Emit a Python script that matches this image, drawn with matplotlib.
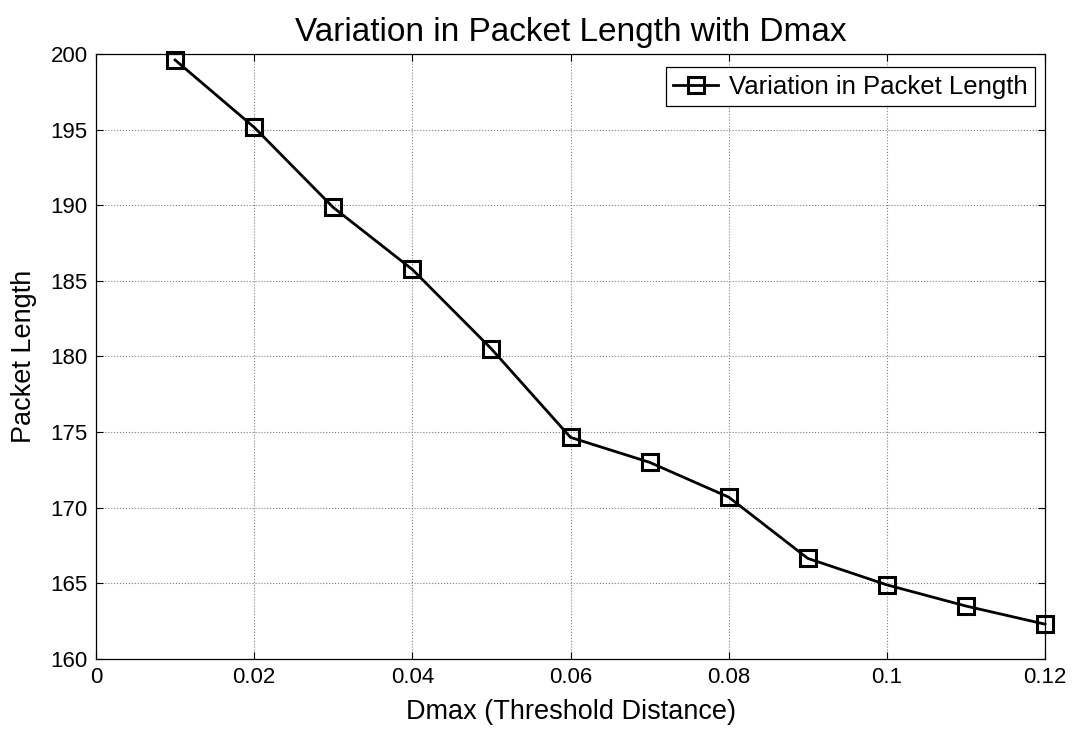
import numpy as np
import matplotlib.pyplot as plt

plt.rcParams['font.family'] = ['Liberation Sans', 'DejaVu Sans']

# data
dmax = [0.01, 0.02, 0.03, 0.04, 0.05, 0.06, 0.07, 0.08, 0.09, 0.10, 0.11, 0.12]
packetLength = [199.6, 195.15, 189.85, 185.75, 180.5, 174.65, 173.0, 170.7, 166.65, 164.9, 163.5, 162.3]
xTicks = [0, 0.02, 0.04, 0.06, 0.08, 0.1, 0.12]
xTickLabels = ['0', '0.02', '0.04', '0.06', '0.08', '0.1', '0.12']
yTicks = [160, 165, 170, 175, 180, 185, 190, 195, 200]

def main():
  fig = plt.figure(figsize=(10.79, 7.33), dpi=100)
  ax = fig.add_axes([0.089, 0.101, 0.8795, 0.8254])

  ax.plot(dmax, packetLength, color='black', linewidth=2.0, marker='s',
          markersize=11.5, markerfacecolor='none', markeredgewidth=2.2,
          markeredgecolor='black', label='Variation in Packet Length',
          clip_on=False, zorder=3)

  ax.set_xlim(0, 0.12)
  ax.set_ylim(160, 200)
  ax.set_xticks(xTicks)
  ax.set_xticklabels(xTickLabels)
  ax.set_yticks(yTicks)
  ax.tick_params(direction='in', top=True, right=True, labelsize=16,
                 length=5, width=0.8, pad=6)
  ax.grid(True, color='#808080', linestyle=':', linewidth=0.8)
  for sp in ax.spines.values():
    sp.set_linewidth(0.9)

  ax.set_title('Variation in Packet Length with Dmax', fontsize=24, pad=9)
  ax.set_xlabel('Dmax (Threshold Distance)', fontsize=19.5, labelpad=8)
  ax.set_ylabel('Packet Length', fontsize=19.5, labelpad=10)

  # legend box pinned just inside the upper right corner
  leg = ax.legend(loc='upper right', bbox_to_anchor=(0.9895, 0.9785),
                  fontsize=18.5, fancybox=False, edgecolor='black',
                  framealpha=1, borderaxespad=0, handlelength=1.75,
                  borderpad=0.3, handletextpad=0.4)
  leg.get_frame().set_linewidth(0.9)

  fig.savefig('out.png', dpi=100)

if __name__ == '__main__':
  main()
